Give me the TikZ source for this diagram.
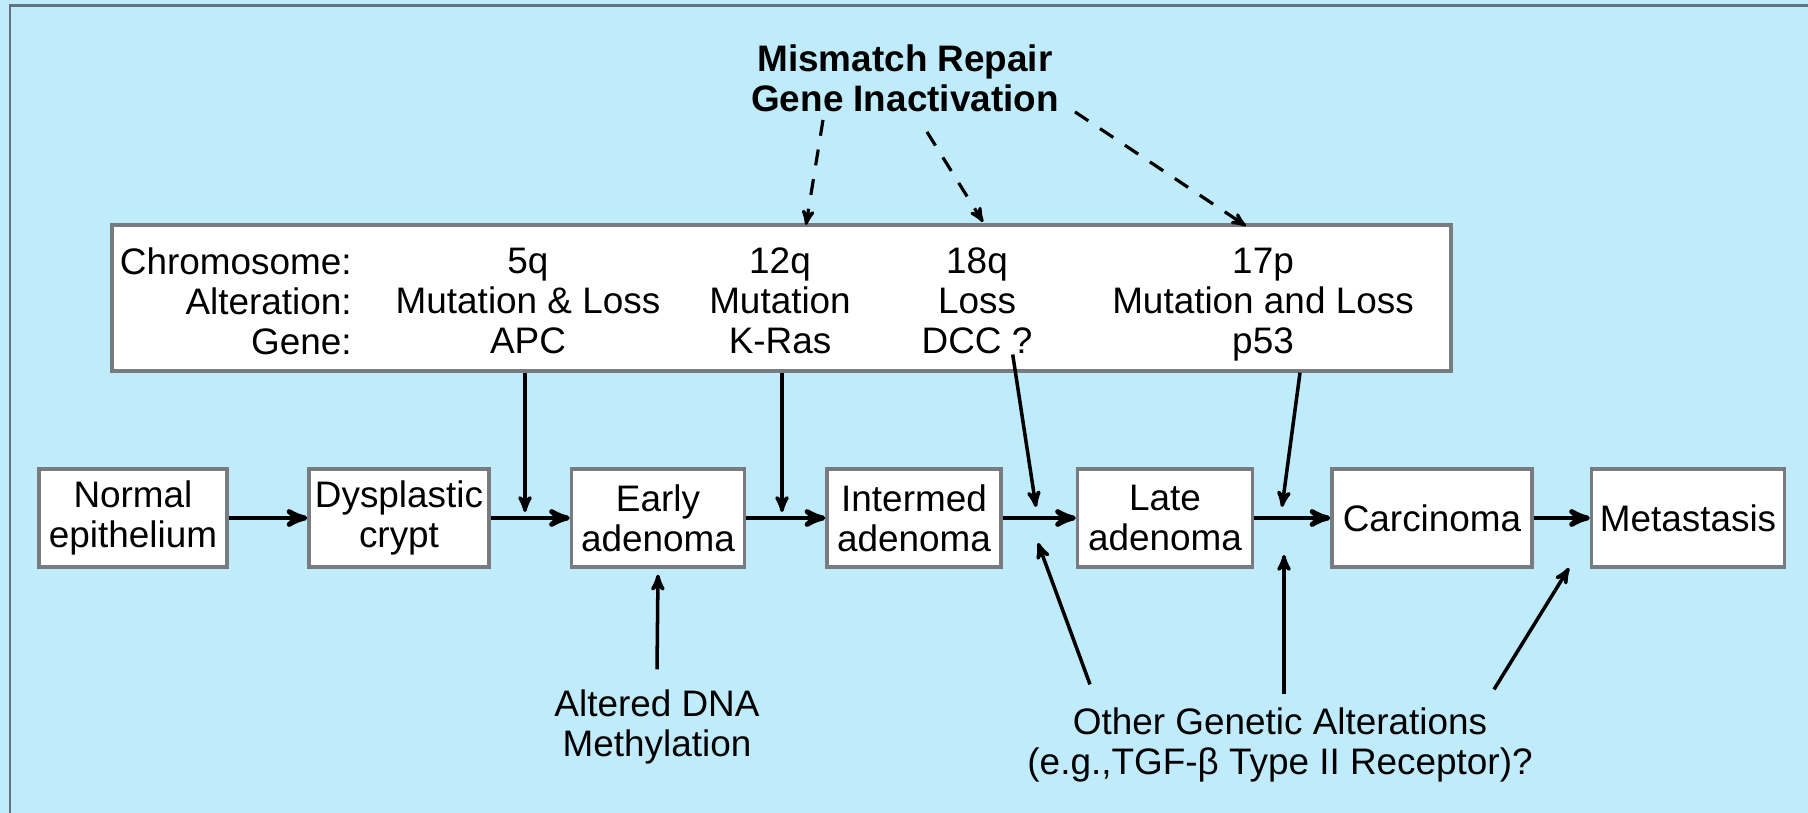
\documentclass[tikz,border=0pt]{standalone}
\usepackage{fontspec}
\setmainfont{Liberation Sans}
\usepackage{tikz}
\usetikzlibrary{calc}
\usetikzlibrary{arrows}
\definecolor{skyback}{RGB}{192,235,250}
\definecolor{framegray}{RGB}{95,118,128}
\definecolor{boxgray}{RGB}{120,124,128}
\newcommand{\diagfont}{\fontsize{21}{22.8}\selectfont}
\tikzset{
  stagebox/.style={draw=boxgray, line width=1.9pt, fill=white, minimum height=1.96cm, align=center, inner sep=0pt, font=\diagfont},
  infobox/.style={draw=boxgray, line width=1.9pt, fill=white, minimum width=26.78cm, minimum height=2.92cm, inner sep=0pt},
  coltext/.style={align=center, inner sep=0pt, text depth=0.25em, font=\diagfont},
  note/.style={align=center, inner sep=0pt, font=\diagfont},
  flow/.style={line width=2.8pt, ->, >=stealth'},
  feed/.style={line width=2pt, ->, >=stealth'},
  mmrfeed/.style={line width=1.8pt, ->, >=stealth', dash pattern=on 0.32cm off 0.28cm},
}

\begin{document}
\begin{tikzpicture}[x=0.02cm, y=-0.02cm]
\useasboundingbox (0,0) rectangle (1808,813);
\fill[skyback] (0,0) rectangle (1808,813);
\draw[framegray, line width=1.7pt] (10,813) -- (10,6) -- (1808,6);

% mismatch repair
\node[note, font=\diagfont\bfseries] (mmr) at (905,78) {Mismatch Repair\\Gene Inactivation};

% chromosome table
\node[infobox] (chrom) at (781.5,298) {};
\node[coltext, align=right, anchor=east] (rowlab) at (352,303) {Chromosome:\\Alteration:\\Gene:};
\node[coltext] (c5q)  at (528,303)  {5q\\Mutation \& Loss\\APC};
\node[coltext] (c12q) at (780,303)  {12q\\Mutation\\K-Ras};
\node[coltext] (c18q) at (977,303)  {18q\\Loss\\DCC ?};
\node[coltext] (c17p) at (1263,303) {17p\\Mutation and Loss\\p53};

% stages
\foreach \name/\x/\w/\txt in {normal/133/3.76/{Normal\\epithelium},
  dysplastic/399/3.6/{Dysplastic\\crypt}, early/658/3.46/{Early\\adenoma},
  intermed/914/3.48/{Intermed\\adenoma}, late/1165/3.5/{Late\\adenoma},
  carcinoma/1432/4.0/{Carcinoma}, metastasis/1688/3.86/{Metastasis}}
  \node[stagebox, minimum width=\w cm] (\name) at (\x,518) {\txt};

\draw[flow] (normal) -- (dysplastic);
\draw[flow] (dysplastic) -- (early);
\draw[flow] (early) -- (intermed);
\draw[flow] (intermed) -- (late);
\draw[flow] (late) -- (carcinoma);
\draw[flow] (carcinoma) -- (metastasis);

% hits from the table
\coordinate (hit1) at (525,512);
\coordinate (hit2) at (782,512);
\coordinate (hit3) at (1036,507);
\coordinate (hit4) at (1282,507);
\draw[feed] (chrom.south -| hit1) -- (hit1);
\draw[feed] (chrom.south -| hit2) -- (hit2);
\draw[feed] ($(c18q.south east)+(-20,-4)$) -- (hit3);
\draw[feed] ($(chrom.south -| c17p)+(37,0)$) -- (hit4);

% dashed from mmr
\coordinate (m1) at (806,225);
\coordinate (m2) at (983,222);
\coordinate (m3) at (1246,226);
\draw[mmrfeed] ($(mmr.south)+(-82,8)$) -- (m1);
\draw[mmrfeed] ($(mmr.south)+(22,20)$) -- (m2);
\draw[mmrfeed] ($(mmr.south)+(170,0)$) -- (m3);

% bottom notes
\node[note] (methyl) at (657,727) {Altered DNA\\Methylation};
\draw[feed] ([yshift=0.4cm]methyl.north) -- ([yshift=-0.12cm]early.south);

\node[note] (other) at (1280,745) {Other Genetic Alterations\\(e.g.,TGF-β Type II Receptor)?};
\coordinate (o1) at (1038,543);
\coordinate (o2) at (1284,555);
\coordinate (o3) at (1569,568);
\draw[feed] ($(other.north)+(-190,-23)$) -- (o1);
\draw[feed] ($(other.north)+(4,-13)$) -- (o2);
\draw[feed] ($(other.north)+(214,-18)$) -- (o3);
\end{tikzpicture}
\end{document}
